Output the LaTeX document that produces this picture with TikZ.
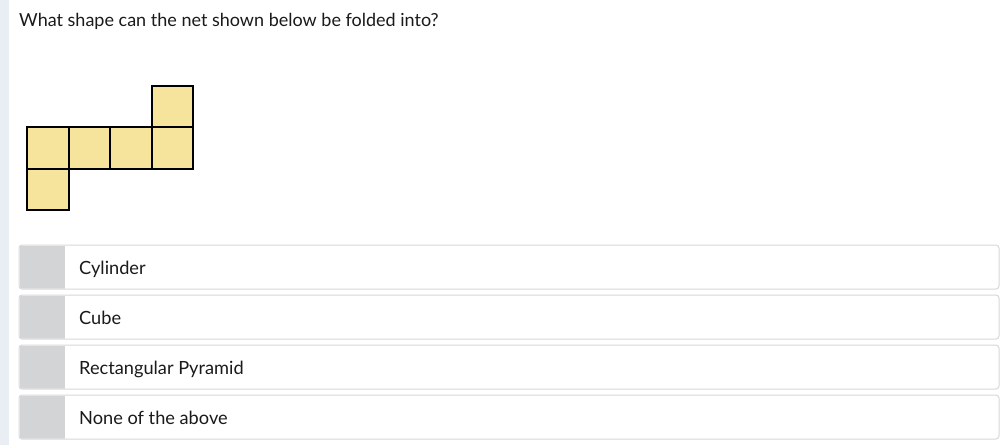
\documentclass[tikz,border=0pt]{standalone}
\usepackage{fontspec}
\setmainfont{Lato}
\definecolor{netfill}{HTML}{F6E39C}
\definecolor{optborder}{HTML}{D8D8D8}
\definecolor{optgray}{HTML}{D3D4D6}
\definecolor{leftband}{HTML}{E9EEF5}
\definecolor{txt}{HTML}{1A1A1A}
\tikzset{
  face/.style={draw=black, fill=netfill, line width=2pt, minimum width=41.5pt, minimum height=41.5pt, inner sep=0pt, outer sep=0pt},
  optbox/.style={draw=optborder, fill=white, line width=1pt, rounded corners=3pt},
  optlabel/.style={anchor=base west, font=\fontsize{18.2}{21}\selectfont, text=txt, inner sep=0pt},
}
\begin{document}
\begin{tikzpicture}[x=1pt,y=-1pt]
\useasboundingbox (0,0) rectangle (1005,445);
\fill[white] (0,0) rectangle (1005,445);
\fill[leftband] (0,0) rectangle (9,445);
\node[anchor=base west, font=\fontsize{18}{21}\selectfont, text=txt, inner sep=0pt] (q) at (19,26) {What shape can the net shown below be folded into?};
% net
\node[face] (f1) at (47.75,147.75) {};
\node[face] (f2) at (89.25,147.75) {};
\node[face] (f3) at (130.75,147.75) {};
\node[face] (f4) at (172.25,147.75) {};
\node[face] (f5) at (172.25,106.25) {};
\node[face] (f6) at (47.75,189.25) {};
% options
\foreach \i/\t/\y in {1/Cylinder/245, 2/Cube/295, 3/Rectangular Pyramid/345, 4/None of the above/395} {
  \draw[optbox] (19,\y) rectangle (999,\y+44);
  \begin{scope}
    \clip[rounded corners=3pt] (19.5,\y+0.5) rectangle (998.5,\y+43.5);
    \fill[optgray] (19.5,\y+0.5) rectangle (65,\y+43.5);
  \end{scope}
  \node[optlabel] (o\i) at (79,\y+29) {\t};
}
\end{tikzpicture}
\end{document}
